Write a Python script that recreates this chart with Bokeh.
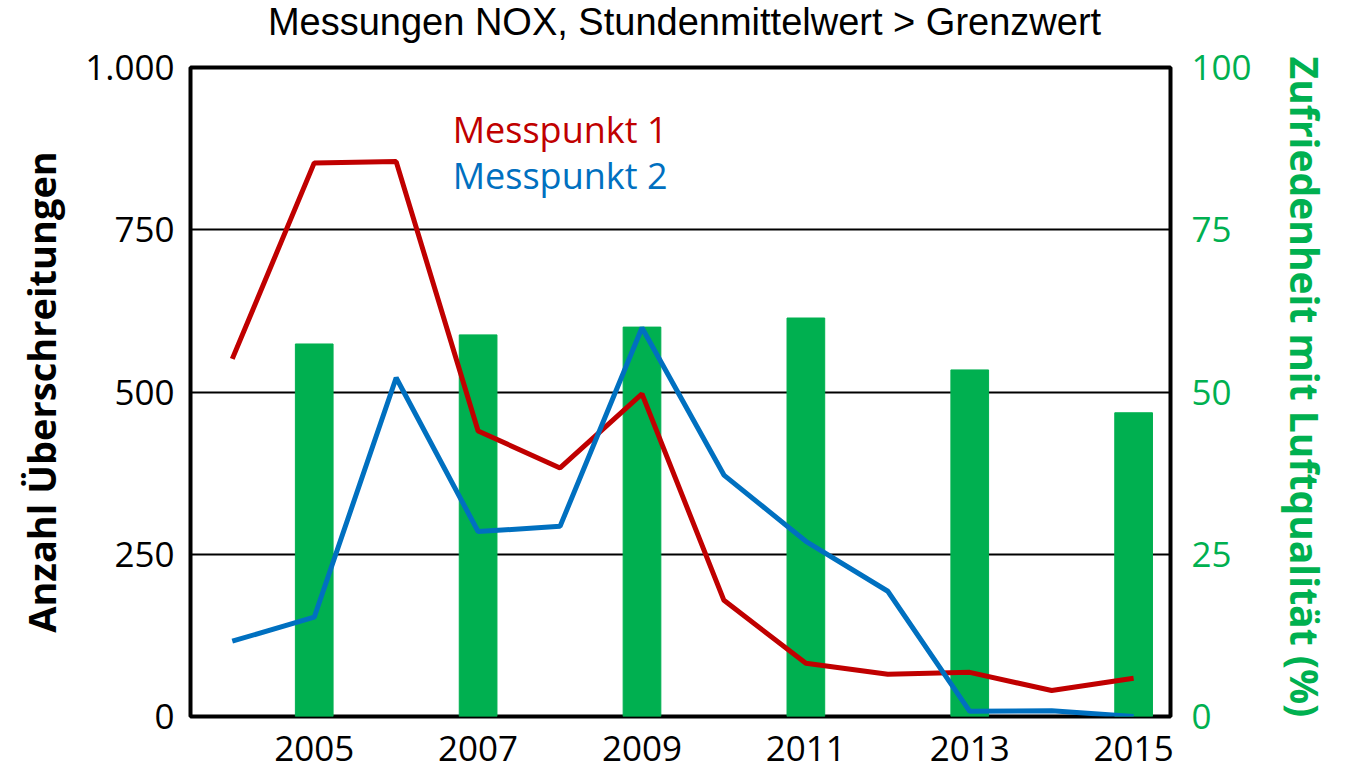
from bokeh.plotting import figure
from bokeh.layouts import column
from bokeh.models import Range1d, LinearAxis, FixedTicker, Label, ColumnDataSource
from bokeh.embed import file_html
from bokeh.resources import INLINE

title_text = "Messungen NOX, Stundenmittelwert > Grenzwert"
years = [2004, 2005, 2006, 2007, 2008, 2009, 2010, 2011, 2012, 2013, 2014, 2015]
messpunkt1 = [551, 853, 855, 440, 383, 497, 179, 82, 65, 68, 40, 59]
messpunkt2 = [116, 153, 522, 285, 293, 599, 372, 270, 193, 8, 9, 0]
bar_years = [2005, 2007, 2009, 2011, 2013, 2015]
zufriedenheit = [57.4, 58.8, 60.0, 61.4, 53.4, 46.8]
left_ticks = [0, 250, 500, 750, 1000]
right_ticks = [0, 25, 50, 75, 100]
x_ticks = [2005, 2007, 2009, 2011, 2013, 2015]

RED = "#C00000"
BLUE = "#0070C0"
GREEN = "#00B050"
FONT = "Open Sans"
TITLE_FONT = "Liberation Sans"

W = 1349
TITLE_H = 43

# ---- title strip (own small figure so the text is not clipped) ----
t = figure(width=W, height=TITLE_H, output_backend="svg", toolbar_location=None,
           x_range=Range1d(0, W), y_range=Range1d(0, TITLE_H),
           x_axis_type=None, y_axis_type=None,
           min_border_left=0, min_border_right=0, min_border_top=0, min_border_bottom=0)
t.outline_line_color = None
t.grid.visible = False
t.add_layout(Label(x=680, y=TITLE_H / 2, text=title_text, text_color="black", text_font=TITLE_FONT,
                   text_font_size="38px", text_align="center", text_baseline="middle"))

# ---- main chart ----
X0, X1 = 2003.49, 2015.45
p = figure(width=W, height=774 - TITLE_H, output_backend="svg", toolbar_location=None,
           x_range=Range1d(X0, X1), y_range=Range1d(0, 1000),
           min_border_left=190, min_border_right=179, min_border_top=67 - TITLE_H,
           min_border_bottom=58)

p.extra_y_ranges = {"pct": Range1d(0, 100)}

p.outline_line_color = "black"
p.outline_line_width = 4
p.outline_line_alpha = 1

p.xgrid.visible = False
p.ygrid.ticker = FixedTicker(ticks=[250, 500, 750])
p.ygrid.grid_line_color = "black"
p.ygrid.grid_line_width = 2

src_bar = ColumnDataSource(dict(x=bar_years, top=zufriedenheit))
p.vbar(x="x", top="top", width=0.46, bottom=0, source=src_bar, color=GREEN, y_range_name="pct")

src = ColumnDataSource(dict(x=years, m1=messpunkt1, m2=messpunkt2))
p.line("x", "m1", source=src, line_color=RED, line_width=5)
p.line("x", "m2", source=src, line_color=BLUE, line_width=5)

# left axis
ya = p.yaxis[0]
ya.ticker = FixedTicker(ticks=left_ticks)
ya.major_label_overrides = {1000: "1.000"}
ya.axis_label = "Anzahl Überschreitungen"
ya.axis_label_text_font = FONT
ya.axis_label_text_font_style = "bold"
ya.axis_label_text_font_size = "38px"
ya.axis_label_text_color = "black"
ya.axis_label_standoff = 15
ya.major_label_text_font = FONT
ya.major_label_text_font_size = "35px"
ya.major_label_text_color = "black"
ya.major_label_standoff = 10
ya.axis_line_color = None
ya.major_tick_line_color = None
ya.minor_tick_line_color = None

# right axis
ra = LinearAxis(y_range_name="pct")
ra.ticker = FixedTicker(ticks=right_ticks)
ra.axis_label = "Zufriedenheit mit Luftqualität  (%)"
ra.axis_label_text_font = FONT
ra.axis_label_text_font_style = "bold"
ra.axis_label_text_font_size = "39px"
ra.axis_label_text_color = GREEN
ra.axis_label_standoff = 24
ra.major_label_text_font = FONT
ra.major_label_text_font_size = "35px"
ra.major_label_text_color = GREEN
ra.major_label_standoff = 15
ra.axis_line_color = None
ra.major_tick_line_color = None
ra.minor_tick_line_color = None
p.add_layout(ra, "right")

# bottom axis
xa = p.xaxis[0]
xa.ticker = FixedTicker(ticks=x_ticks)
xa.major_label_text_font = FONT
xa.major_label_text_font_size = "35px"
xa.major_label_text_color = "black"
xa.major_label_standoff = 13
xa.axis_line_color = None
xa.major_tick_line_color = None
xa.minor_tick_line_color = None

p.add_layout(Label(x=2006.69, y=904, text="Messpunkt 1", text_color=RED, text_font=FONT,
                   text_font_size="36px", text_baseline="middle"))
p.add_layout(Label(x=2006.69, y=833, text="Messpunkt 2", text_color=BLUE, text_font=FONT,
                   text_font_size="36px", text_baseline="middle"))

layout = column(t, p, spacing=0)
open("out.html", "w").write(file_html(layout, INLINE))
